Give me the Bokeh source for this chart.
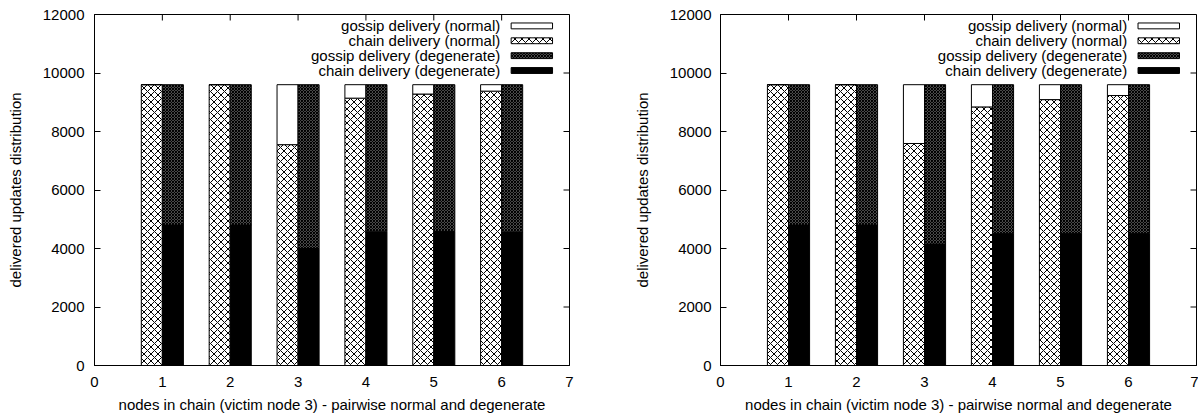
import numpy as np
from bokeh.plotting import figure
from bokeh.layouts import row
from bokeh.models import Range1d, FixedTicker
from bokeh.core.properties import value
from bokeh.embed import file_html
from bokeh.resources import INLINE

# ---------------- data ----------------
nodes = [1, 2, 3, 4, 5, 6]
x_ticks = [0, 1, 2, 3, 4, 5, 6, 7]
y_ticks = [0, 2000, 4000, 6000, 8000, 10000, 12000]

# left panel
chain_normal_L = [9600, 9600, 7550, 9140, 9280, 9380]
gossip_normal_L = [0, 0, 2050, 460, 320, 220]
chain_degen_L = [4800, 4800, 4000, 4590, 4580, 4570]
gossip_degen_L = [4800, 4800, 5600, 5010, 5020, 5030]

# right panel
chain_normal_R = [9600, 9600, 7590, 8840, 9090, 9230]
gossip_normal_R = [0, 0, 2010, 760, 510, 370]
chain_degen_R = [4800, 4800, 4150, 4510, 4510, 4510]
gossip_degen_R = [4800, 4800, 5450, 5090, 5090, 5090]

legend_labels = ["gossip delivery (normal)", "chain delivery (normal)",
                 "gossip delivery (degenerate)", "chain delivery (degenerate)"]

x_label = "nodes in chain (victim node 3) - pairwise normal and degenerate"
y_label = "delivered updates distribution"

# ---------------- style ----------------
FONT = "Liberation Sans"
FS = "15px"
BAR_W = 0.31
LEG_TEXT_X = 5.98
LEG_BOX_X0, LEG_BOX_X1 = 6.14, 6.75
LEG_ROWS = [11610, 11102, 10593, 10085]
LEG_BOX_H = 200
X_MIN, X_MAX = 0, 7
Y_MIN, Y_MAX = 0, 12000

styles = [
    dict(fill_color="white", line_color="black"),
    dict(fill_color="white", line_color="black", hatch_pattern="x", hatch_scale=7,
         hatch_weight=1, hatch_color="black"),
    dict(fill_color="white", line_color="black", hatch_pattern="x", hatch_scale=3,
         hatch_weight=1.7, hatch_color="black"),
    dict(fill_color="black", line_color="black"),
]


def style_axis(ax, standoff, label_standoff):
    ax.major_tick_in = 6
    ax.major_tick_out = 0
    ax.minor_tick_line_color = None
    ax.axis_line_color = "black"
    ax.major_tick_line_color = "black"
    ax.major_label_text_font = FONT
    ax.major_label_text_font_size = FS
    ax.major_label_text_color = "black"
    ax.major_label_standoff = standoff
    ax.axis_label_text_font = FONT
    ax.axis_label_text_font_size = FS
    ax.axis_label_text_font_style = "normal"
    ax.axis_label_text_color = "black"
    ax.axis_label_standoff = label_standoff


def make_panel(chain_n, gossip_n, chain_d, gossip_d, width, bl, br, ystand):
    p = figure(width=width, height=415, x_range=Range1d(X_MIN, X_MAX),
               y_range=Range1d(Y_MIN, Y_MAX),
               output_backend="svg", toolbar_location=None,
               min_border_left=bl, min_border_right=br, min_border_top=14,
               min_border_bottom=47)
    p.xgrid.visible = False
    p.ygrid.visible = False
    p.outline_line_color = "black"
    p.outline_line_alpha = 1.0
    p.outline_line_width = 1
    p.background_fill_color = "white"
    p.border_fill_color = "white"

    xs = np.array(nodes, dtype=float)
    cn = np.array(chain_n, dtype=float)
    gn = np.array(gossip_n, dtype=float)
    cd = np.array(chain_d, dtype=float)
    gd = np.array(gossip_d, dtype=float)

    xn = xs - BAR_W / 2
    xd = xs + BAR_W / 2
    p.vbar(x=xn, width=BAR_W, bottom=0, top=cn, **styles[1])
    p.vbar(x=xn, width=BAR_W, bottom=cn, top=cn + gn, **styles[0])
    p.vbar(x=xd, width=BAR_W, bottom=0, top=cd, **styles[3])
    p.vbar(x=xd, width=BAR_W, bottom=cd, top=cd + gd, **styles[2])

    # key (gnuplot style: text then sample)
    p.text(x=[LEG_TEXT_X] * 4, y=LEG_ROWS, text=legend_labels, text_align="right",
           text_baseline="middle", text_font=value(FONT), text_font_size=FS,
           text_color="black")
    for yc, st in zip(LEG_ROWS, styles):
        p.quad(left=[LEG_BOX_X0], right=[LEG_BOX_X1], bottom=[yc - LEG_BOX_H / 2],
               top=[yc + LEG_BOX_H / 2], **st)

    # mirrored inward ticks on top and right borders
    p.ray(x=x_ticks, y=[Y_MAX] * len(x_ticks), length=6, length_units="screen",
          angle=-np.pi / 2, line_color="black", line_width=1)
    p.ray(x=[X_MAX] * len(y_ticks), y=y_ticks, length=6, length_units="screen",
          angle=np.pi, line_color="black", line_width=1)

    p.xaxis.ticker = FixedTicker(ticks=x_ticks)
    p.yaxis.ticker = FixedTicker(ticks=y_ticks)
    p.xaxis.axis_label = x_label
    p.yaxis.axis_label = y_label
    style_axis(p.xaxis[0], 11, 6)
    style_axis(p.yaxis[0], ystand, 16)
    return p


p1 = make_panel(chain_normal_L, gossip_normal_L, chain_degen_L, gossip_degen_L, 630, 94, 61, 10)
p2 = make_panel(chain_normal_R, gossip_normal_R, chain_degen_R, gossip_degen_R, 568, 90, 2, 9)

layout = row(p1, p2)
open("out.html", "w").write(file_html(layout, INLINE))
